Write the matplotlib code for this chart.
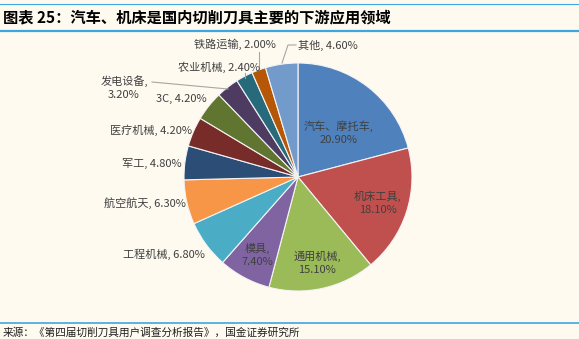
import matplotlib.pyplot as plt

plt.rcParams['font.family'] = ['Noto Sans CJK SC', 'DejaVu Sans']

# data
labels = ["汽车、摩托车", "机床工具", "通用机械", "模具", "工程机械", "航空航天",
          "军工", "医疗机械", "3C", "发电设备", "农业机械", "铁路运输", "其他"]
shares = [20.9, 18.1, 15.1, 7.4, 6.8, 6.3, 4.8, 4.2, 4.2, 3.2, 2.4, 2.0, 4.6]
colors = ["#4F81BD", "#C0504D", "#9BBB59", "#8064A2", "#4BACC6", "#F79646",
          "#2C4D75", "#772C2A", "#5F7530", "#4D3B62", "#276A7C", "#B65708", "#729ACA"]

W, H = 579, 339
bg = "#FEFAF0"
fig = plt.figure(figsize=(W / 100, H / 100), dpi=100, facecolor=bg)
ax = fig.add_axes([0, 0, 1, 1])
ax.set_facecolor(bg)

# pie in pixel space (y measured from bottom)
cx, cy, r = 298, H - 177, 114
ax.pie(shares, colors=colors, startangle=90, counterclock=False,
       center=(cx, cy), radius=r,
       wedgeprops=dict(edgecolor="#F4F4F4", linewidth=0.8))
ax.set_xlim(0, W)
ax.set_ylim(0, H)
ax.set_aspect("equal")
ax.axis("off")

def py(y):
    return H - y

# label text: positions in pixel coords (x, y from top), alignment
lab_pos = {
    "汽车、摩托车": (339, 133, "center"),
    "机床工具": (378, 203, "center"),
    "通用机械": (317, 263, "center"),
    "模具": (257, 255, "center"),
    "工程机械": (205, 254, "right"),
    "航空航天": (186, 203, "right"),
    "军工": (182, 163, "right"),
    "医疗机械": (192, 130, "right"),
    "3C": (207, 99, "right"),
    "发电设备": (124, 88, "center"),
    "农业机械": (260, 67, "right"),
    "铁路运输": (276, 44, "right"),
    "其他": (298, 45, "left"),
}
two_line = {"汽车、摩托车", "机床工具", "通用机械", "模具", "发电设备"}
txt_color = "#404040"
for name, val in zip(labels, shares):
    x, y, ha = lab_pos[name]
    if name in two_line:
        s = f"{name},\n{val:.2f}%"
        ax.text(x, py(y), s, ha="center", va="center", fontsize=8,
                color=txt_color, linespacing=1.4)
    else:
        s = f"{name}, {val:.2f}%"
        ax.text(x, py(y), s, ha=ha, va="center", fontsize=8, color=txt_color)

# leader lines
lc = "#A6A6A6"
ax.plot([152, 228], [py(82), py(89)], color=lc, lw=0.8)
ax.plot([245, 245], [py(73), py(78)], color=lc, lw=0.8)
ax.plot([259, 259], [py(52), py(69)], color=lc, lw=0.8)
ax.plot([296, 288, 282], [py(45), py(45), py(63)], color=lc, lw=0.8)

# title and frame lines
line_c = "#3DA6E0"
ax.plot([0, W], [py(4), py(4)], color=line_c, lw=0.8)
ax.plot([0, W], [py(31), py(31)], color=line_c, lw=1.6)
ax.text(3, py(17), "图表 25：汽车、机床是国内切削刀具主要的下游应用领域",
        ha="left", va="center", fontsize=11, fontweight="bold", color="black")

ax.plot([0, W], [py(323), py(323)], color=line_c, lw=1.2)
ax.text(3, py(332), "来源：《第四届切削刀具用户调查分析报告》，国金证券研究所",
        ha="left", va="center", fontsize=7.7, color="#202020")

fig.savefig("out.png", dpi=100, facecolor=bg)
